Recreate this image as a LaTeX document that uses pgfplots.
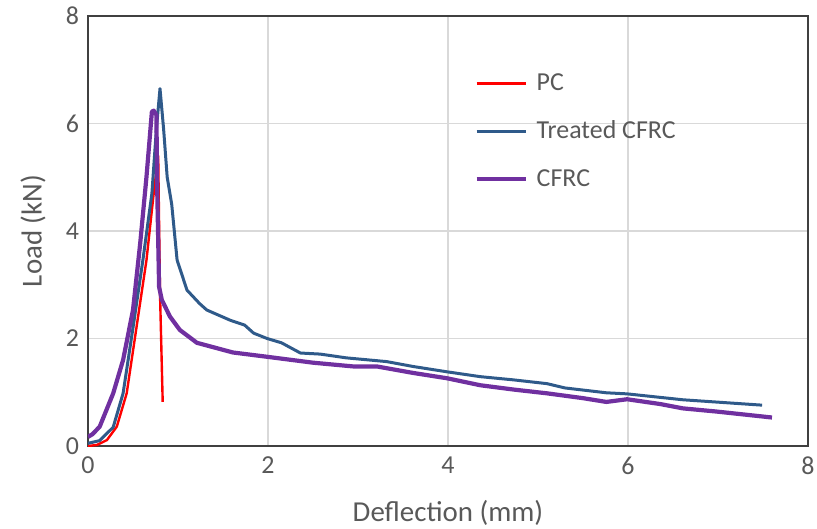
\documentclass[border=0pt]{standalone}
\usepackage{fontspec}
\setmainfont{Carlito}
\usepackage{pgfplots}
\pgfplotsset{compat=1.18}
\definecolor{pcred}{HTML}{FF0000}
\definecolor{tblue}{HTML}{2F5A8A}
\definecolor{cpurple}{HTML}{7030A0}
\definecolor{txtgray}{HTML}{595959}
\definecolor{gridgray}{HTML}{D9D9D9}
\definecolor{axgray}{HTML}{404040}
\begin{document}
\begin{tikzpicture}
\begin{axis}[
  scale only axis,
  width=360bp, height=215bp,
  xmin=0, xmax=8, ymin=0, ymax=8,
  xtick={0,2,4,6,8}, ytick={0,2,4,6,8},
  grid=major,
  major grid style={gridgray, line width=0.6bp},
  major tick length=0pt,
  axis line style={axgray, line width=1bp},
  tick label style={font=\fontsize{13}{15}\selectfont, text=txtgray},
  /pgf/number format/assume math mode=true,
  xticklabel style={yshift=-2bp},
  yticklabel style={xshift=-1bp},
  label style={font=\fontsize{14.5}{17}\selectfont, text=txtgray},
  xlabel={Deflection (mm)},
  ylabel={Load (kN)},
  xlabel style={at={(axis description cs:0.5,0)}, anchor=center, yshift=-33.5bp},
  ylabel style={at={(axis description cs:0,0.5)}, anchor=center, yshift=27.5bp},
  legend style={draw=none, fill=none, at={(rel axis cs:0.528,0.886)}, anchor=north west,
    font=\fontsize{13}{15}\selectfont, text=txtgray, row sep=9.8bp,
    /tikz/every odd column/.append style={column sep=2.5bp}},
  legend cell align=left,
  legend image code/.code={\draw[#1] (0bp,0bp) -- (24.5bp,0bp);},
]
\addplot[pcred, line width=1.2bp, line join=round] coordinates {
(0,0) (0.1,0.02) (0.21,0.11) (0.32,0.36) (0.43,0.98) (0.54,2.22) (0.65,3.46) (0.73,4.7) (0.78,5.4) (0.8,2.85) (0.83,0.82)
};
\addlegendentry{PC}
\addplot[tblue, line width=1.5bp, line join=round] coordinates {
(0,0.05) (0.13,0.1) (0.28,0.35) (0.39,0.98) (0.5,2.2) (0.61,3.46) (0.71,4.7) (0.76,5.9) (0.8,6.65) (0.84,5.9) (0.88,5.0) (0.93,4.5) (0.99,3.46) (1.1,2.9) (1.24,2.65) (1.32,2.53) (1.58,2.34) (1.74,2.25) (1.84,2.1) (1.99,2.0) (2.15,1.92) (2.36,1.73) (2.58,1.71) (2.87,1.64) (3.32,1.57) (3.61,1.48) (3.99,1.38) (4.36,1.29) (4.73,1.23) (5.1,1.16) (5.3,1.08) (5.76,0.99) (5.99,0.97) (6.61,0.86) (7.49,0.76)
};
\addlegendentry{Treated CFRC}
\addplot[cpurple, line width=2.1bp, line join=round] coordinates {
(0,0.17) (0.05,0.22) (0.13,0.36) (0.28,0.98) (0.39,1.6) (0.5,2.53) (0.58,3.77) (0.65,5.01) (0.71,6.22) (0.73,6.24) (0.76,6.16) (0.77,4.7) (0.79,2.96) (0.82,2.72) (0.91,2.41) (1.02,2.16) (1.21,1.92) (1.61,1.74) (1.99,1.66) (2.5,1.55) (2.95,1.48) (3.21,1.48) (3.61,1.36) (3.99,1.26) (4.36,1.13) (4.73,1.05) (5.1,0.98) (5.5,0.89) (5.76,0.82) (5.99,0.87) (6.36,0.78) (6.61,0.70) (6.99,0.64) (7.6,0.53)
};
\addlegendentry{CFRC}
\end{axis}
\pgfresetboundingbox
\path[use as bounding box] (-44bp,-41.5bp) rectangle (364.5bp,223bp);
\end{tikzpicture}
\end{document}
